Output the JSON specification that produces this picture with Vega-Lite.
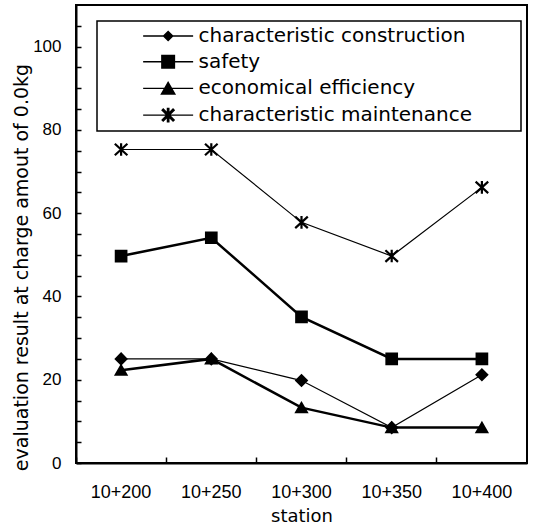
{
  "$schema": "https://vega.github.io/schema/vega-lite/v6.json",
  "width": 451,
  "height": 458,
  "autosize": "none",
  "padding": {"left": 76, "top": 5, "right": 7, "bottom": 64},
  "background": "white",
  "config": {
    "view": {"stroke": "black", "strokeWidth": 2},
    "axis": {
      "domainColor": "black", "domainWidth": 2,
      "tickColor": "black", "tickWidth": 1.5,
      "labelColor": "black", "titleColor": "black",
      "grid": false,
      "labelFont": "Liberation Sans",
      "titleFont": "DejaVu Sans", "titleFontWeight": "normal"
    },
    "legend": {"strokeWidth": 1.5}
  },
  "data": {
    "values": [
      {"station": "10+200", "series": "characteristic construction", "value": 25.0},
      {"station": "10+250", "series": "characteristic construction", "value": 25.0},
      {"station": "10+300", "series": "characteristic construction", "value": 19.8},
      {"station": "10+350", "series": "characteristic construction", "value": 8.5},
      {"station": "10+400", "series": "characteristic construction", "value": 21.2},
      {"station": "10+200", "series": "safety", "value": 49.7},
      {"station": "10+250", "series": "safety", "value": 54.1},
      {"station": "10+300", "series": "safety", "value": 35.1},
      {"station": "10+350", "series": "safety", "value": 25.0},
      {"station": "10+400", "series": "safety", "value": 25.0},
      {"station": "10+200", "series": "economical efficiency", "value": 22.3},
      {"station": "10+250", "series": "economical efficiency", "value": 25.0},
      {"station": "10+300", "series": "economical efficiency", "value": 13.3},
      {"station": "10+350", "series": "economical efficiency", "value": 8.5},
      {"station": "10+400", "series": "economical efficiency", "value": 8.5},
      {"station": "10+200", "series": "characteristic maintenance", "value": 75.3},
      {"station": "10+250", "series": "characteristic maintenance", "value": 75.3},
      {"station": "10+300", "series": "characteristic maintenance", "value": 57.8},
      {"station": "10+350", "series": "characteristic maintenance", "value": 49.7},
      {"station": "10+400", "series": "characteristic maintenance", "value": 66.2}
    ]
  },
  "encoding": {
    "x": {
      "field": "station", "type": "nominal", "sort": null,
      "scale": {"type": "band", "paddingInner": 0, "paddingOuter": 0},
      "bandPosition": 0.5,
      "axis": {
        "title": "station", "bandPosition": 0,
        "tickSize": -6, "labelPadding": 26, "labelAngle": 0,
        "labelFontSize": 18, "titleFontSize": 18, "titlePadding": 6
      }
    },
    "y": {
      "field": "value", "type": "quantitative",
      "scale": {"domain": [0, 110], "nice": false},
      "axis": {
        "title": "evaluation result at charge amout of 0.0kg",
        "values": [0, 5, 10, 15, 20, 25, 30, 35, 40, 45, 50, 55, 60, 65, 70, 75, 80, 85, 90, 95, 100, 105],
        "labelExpr": "datum.value % 20 === 0 ? datum.label : ''",
        "labelOverlap": false,
        "tickSize": -5, "labelPadding": 20, "labelFontSize": 17,
        "titleFontSize": 19, "titleX": -55, "titleY": 262,
        "titleAlign": "center", "titleBaseline": "middle", "titleAngle": -90
      }
    }
  },
  "layer": [
    {
      "mark": {"type": "line", "color": "black"},
      "encoding": {
        "detail": {"field": "series"},
        "strokeWidth": {
          "condition": {"test": "datum.series === 'safety' || datum.series === 'economical efficiency'", "value": 2.5},
          "value": 1.2
        }
      }
    },
    {
      "mark": {"type": "point", "filled": true, "fill": "black", "stroke": "black", "strokeWidth": 2.2, "opacity": 1, "size": 110},
      "encoding": {
        "shape": {
          "field": "series",
          "scale": {"domain": ["characteristic construction", "safety", "economical efficiency", "characteristic maintenance"],
                    "range": ["diamond", "square", "triangle-up", "M-1.2,-1.1L1.2,1.1M-1.2,1.1L1.2,-1.1M0,-1.2L0,1.2"]},
          "legend": null
        }
      }
    },
    {
      "transform": [{"filter": "datum.value < 0"}],
      "mark": {"type": "point", "filled": true, "fill": "black", "stroke": "black", "strokeWidth": 1.5, "opacity": 1, "size": 196},
      "encoding": {
        "shape": {
          "field": "series",
          "scale": {"domain": ["characteristic construction", "safety", "economical efficiency", "characteristic maintenance"],
                    "range": [
                      "M4.45,-0.1L11.59,-0.1L11.59,0.1L4.45,0.1ZM8.02,-0.8L8.82,0L8.02,0.8L7.22,0Z",
                      "M4.45,-0.1L11.59,-0.1L11.59,0.1L4.45,0.1ZM7.02,-1L9.02,-1L9.02,1L7.02,1Z",
                      "M4.45,-0.1L11.59,-0.1L11.59,0.1L4.45,0.1ZM8.02,-1.05L9.15,0.9L6.89,0.9Z",
                      "M4.45,-0.1L11.59,-0.1L11.59,0.1L4.45,0.1ZM7.319,-1.001L9.021,0.701L8.721,1.001L7.019,-0.701ZM7.019,0.701L8.721,-1.001L9.021,-0.701L7.319,1.001ZM7.82,-1.05L8.22,-1.05L8.22,1.05L7.82,1.05Z"
                    ]},
          "legend": {
            "orient": "none", "legendX": 21, "legendY": 16, "title": null,
            "strokeColor": "black", "padding": 5,
            "labelFont": "DejaVu Sans", "labelFontSize": 20, "labelColor": "black",
            "labelOffset": 76.5, "rowPadding": 5.7, "labelLimit": 500,
            "symbolSize": 196, "symbolStrokeWidth": 1.5, "symbolStrokeColor": "black", "symbolFillColor": "black",
            "labelExpr": "datum.label + '\u2800\u2800\u2800'"
          }
        }
      }
    }
  ],
  "resolve": {"scale": {"shape": "independent"}}
}
